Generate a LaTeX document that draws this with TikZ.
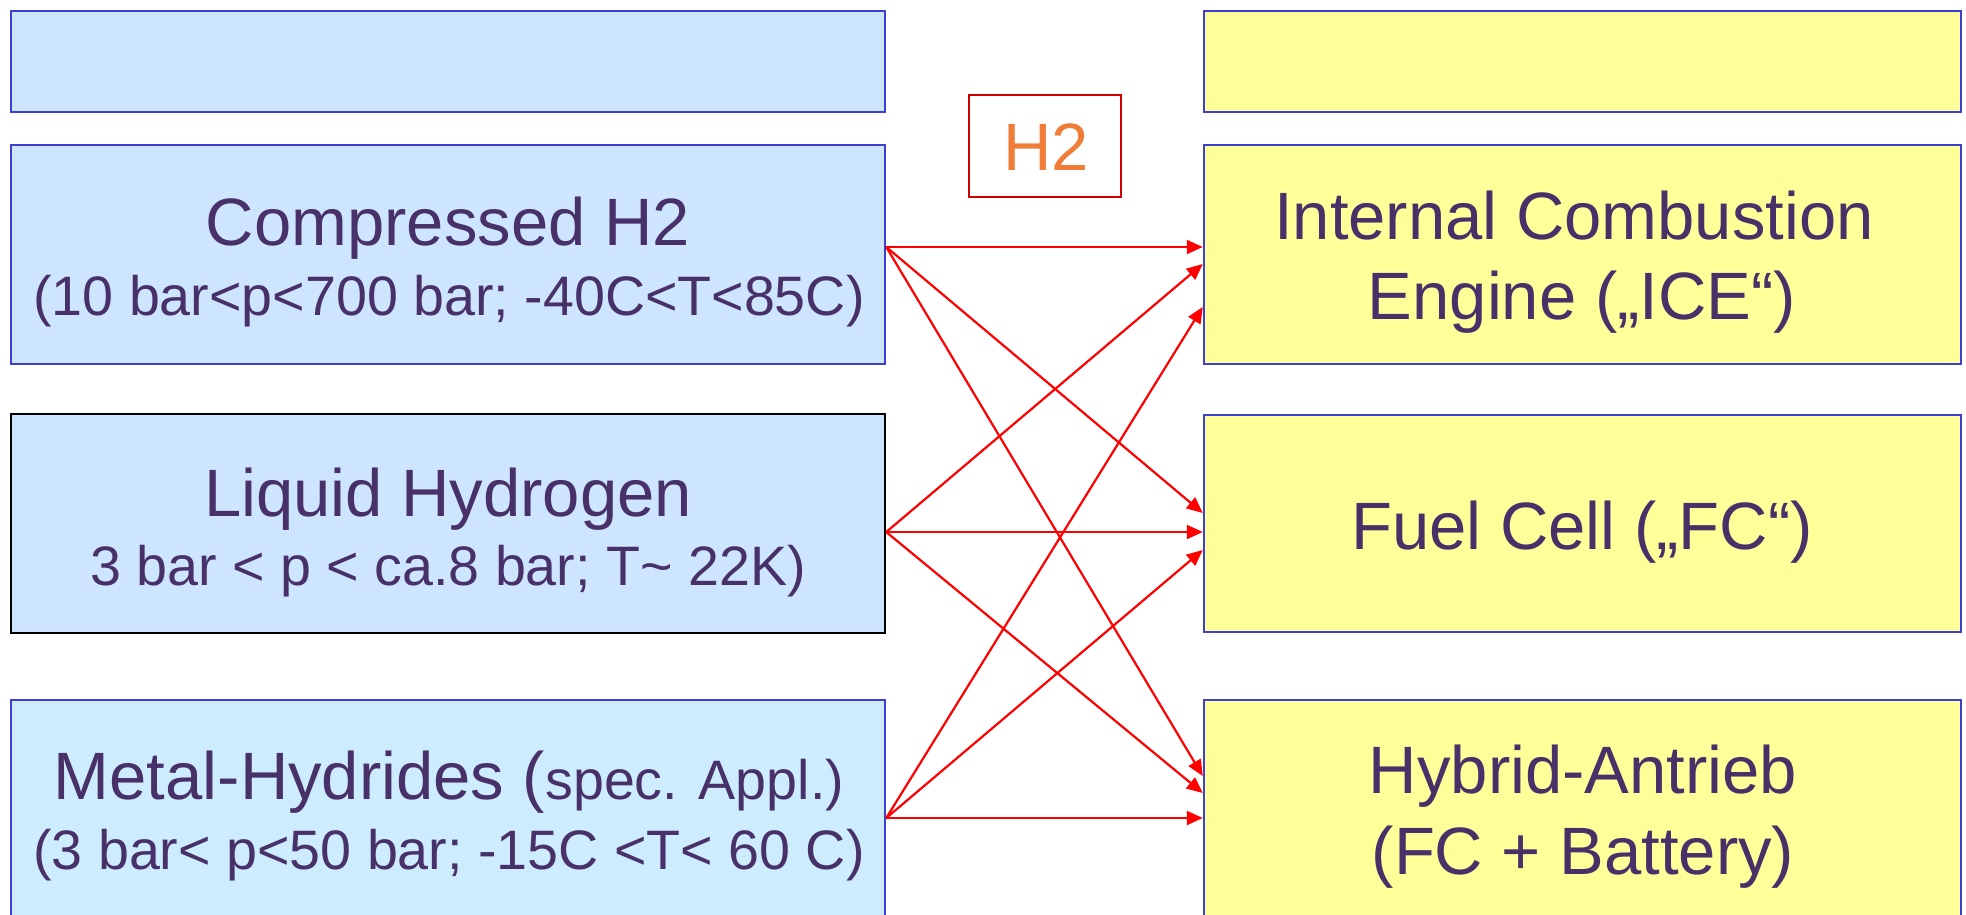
\documentclass[tikz,border=0pt]{standalone}
\usepackage{fontspec}
\setmainfont{Liberation Sans}
\usetikzlibrary{arrows.meta}
\definecolor{txt}{RGB}{72,48,104}
\definecolor{bord}{RGB}{64,64,208}
\definecolor{lblue}{RGB}{206,229,255}
\definecolor{lcyan}{RGB}{206,236,255}
\definecolor{lyel}{RGB}{255,255,153}
\definecolor{htwoorg}{RGB}{240,125,55}
\definecolor{htwored}{RGB}{204,0,0}
\newcommand\fbig{\fontsize{67pt}{80pt}\selectfont}
\newcommand\fsml{\fontsize{55.6pt}{66pt}\selectfont}
\begin{document}
\begin{tikzpicture}[x=1pt,y=-1pt,
  box/.style={draw=bord,line width=2.5pt,inner sep=0pt,minimum width=#1},
  lbox/.style={box=874pt,fill=lblue},
  rbox/.style={box=757pt,fill=lyel},
  lbl/.style={anchor=base,inner sep=0pt,text=txt,font=\fbig},
  slbl/.style={anchor=base,inner sep=0pt,text=txt,font=\fsml},
  arr/.style={draw=red,line width=2.2pt,-{Triangle[length=16pt,width=14pt]}}]
\useasboundingbox (0,0) rectangle (1966,914);
% left column
\node[lbox,minimum height=101pt] (ltop) at (448,61.5) {};
\node[lbox,minimum height=219pt] (cmp) at (448,254.5) {};
\node[lbox,minimum height=219pt,draw=black] (liq) at (448,523.5) {};
\node[lbox,minimum height=230pt,fill=lcyan] (met) at (448,815) {};
% right column
\node[rbox,minimum height=101pt] (rtop) at (1582.5,61.5) {};
\node[rbox,minimum height=219pt] (ice) at (1582.5,254.5) {};
\node[rbox,minimum height=217pt] (fc) at (1582.5,523.5) {};
\node[rbox,minimum height=230pt] (hyb) at (1582.5,815) {};
% H2 label
\node[draw=htwored,line width=2pt,minimum width=152pt,minimum height=102pt,inner sep=0pt] (h2) at (1045,146) {};
\node[anchor=base,inner sep=0pt,text=htwoorg,font=\fbig] (h2t) at (1046,170.5) {H2};
% texts
\node[lbl] (cmp1) at (448,245) {Compressed H2};
\node[slbl] (cmp2) at (449,315) {(10 bar<p<700 bar; -40C<T<85C)};
\node[lbl] (liq1) at (448,516) {Liquid Hydrogen};
\node[slbl] (liq2) at (448,585) {3 bar < p < ca.8 bar; T\textasciitilde{} 22K)};
\node[lbl] (met1) at (449,799) {Metal-Hydrides (\fsml spec. Appl.)};
\node[slbl] (met2) at (449,869) {(3 bar< p<50 bar; -15C <T< 60 C)};
\node[lbl] (ice1) at (1574,239) {Internal Combustion};
\node[lbl] (ice2) at (1582,319) {Engine („ICE“)};
\node[lbl] (fc1) at (1582,549) {Fuel Cell („FC“)};
\node[lbl] (hyb1) at (1583,793) {Hybrid-Antrieb};
\node[lbl] (hyb2) at (1583,874) {(FC + Battery)};
% arrows
\draw[arr] ([yshift=7.5pt]cmp.east) -- ([yshift=7.5pt]ice.west);
\draw[arr] ([yshift=7.5pt]cmp.east) -- ([yshift=10.5pt]fc.west);
\draw[arr] ([yshift=7.5pt]cmp.east) -- ([yshift=39pt]hyb.west);
\draw[arr] ([yshift=-8.5pt]liq.east) -- ([yshift=-9.5pt]ice.west);
\draw[arr] ([yshift=-8.5pt]liq.east) -- ([yshift=-8.5pt]fc.west);
\draw[arr] ([yshift=-8.5pt]liq.east) -- ([yshift=22pt]hyb.west);
\draw[arr] ([yshift=-3pt]met.east) -- ([yshift=-52.5pt]ice.west);
\draw[arr] ([yshift=-3pt]met.east) -- ([yshift=-26.5pt]fc.west);
\draw[arr] ([yshift=-3pt]met.east) -- ([yshift=-3pt]hyb.west);
\end{tikzpicture}
\end{document}
